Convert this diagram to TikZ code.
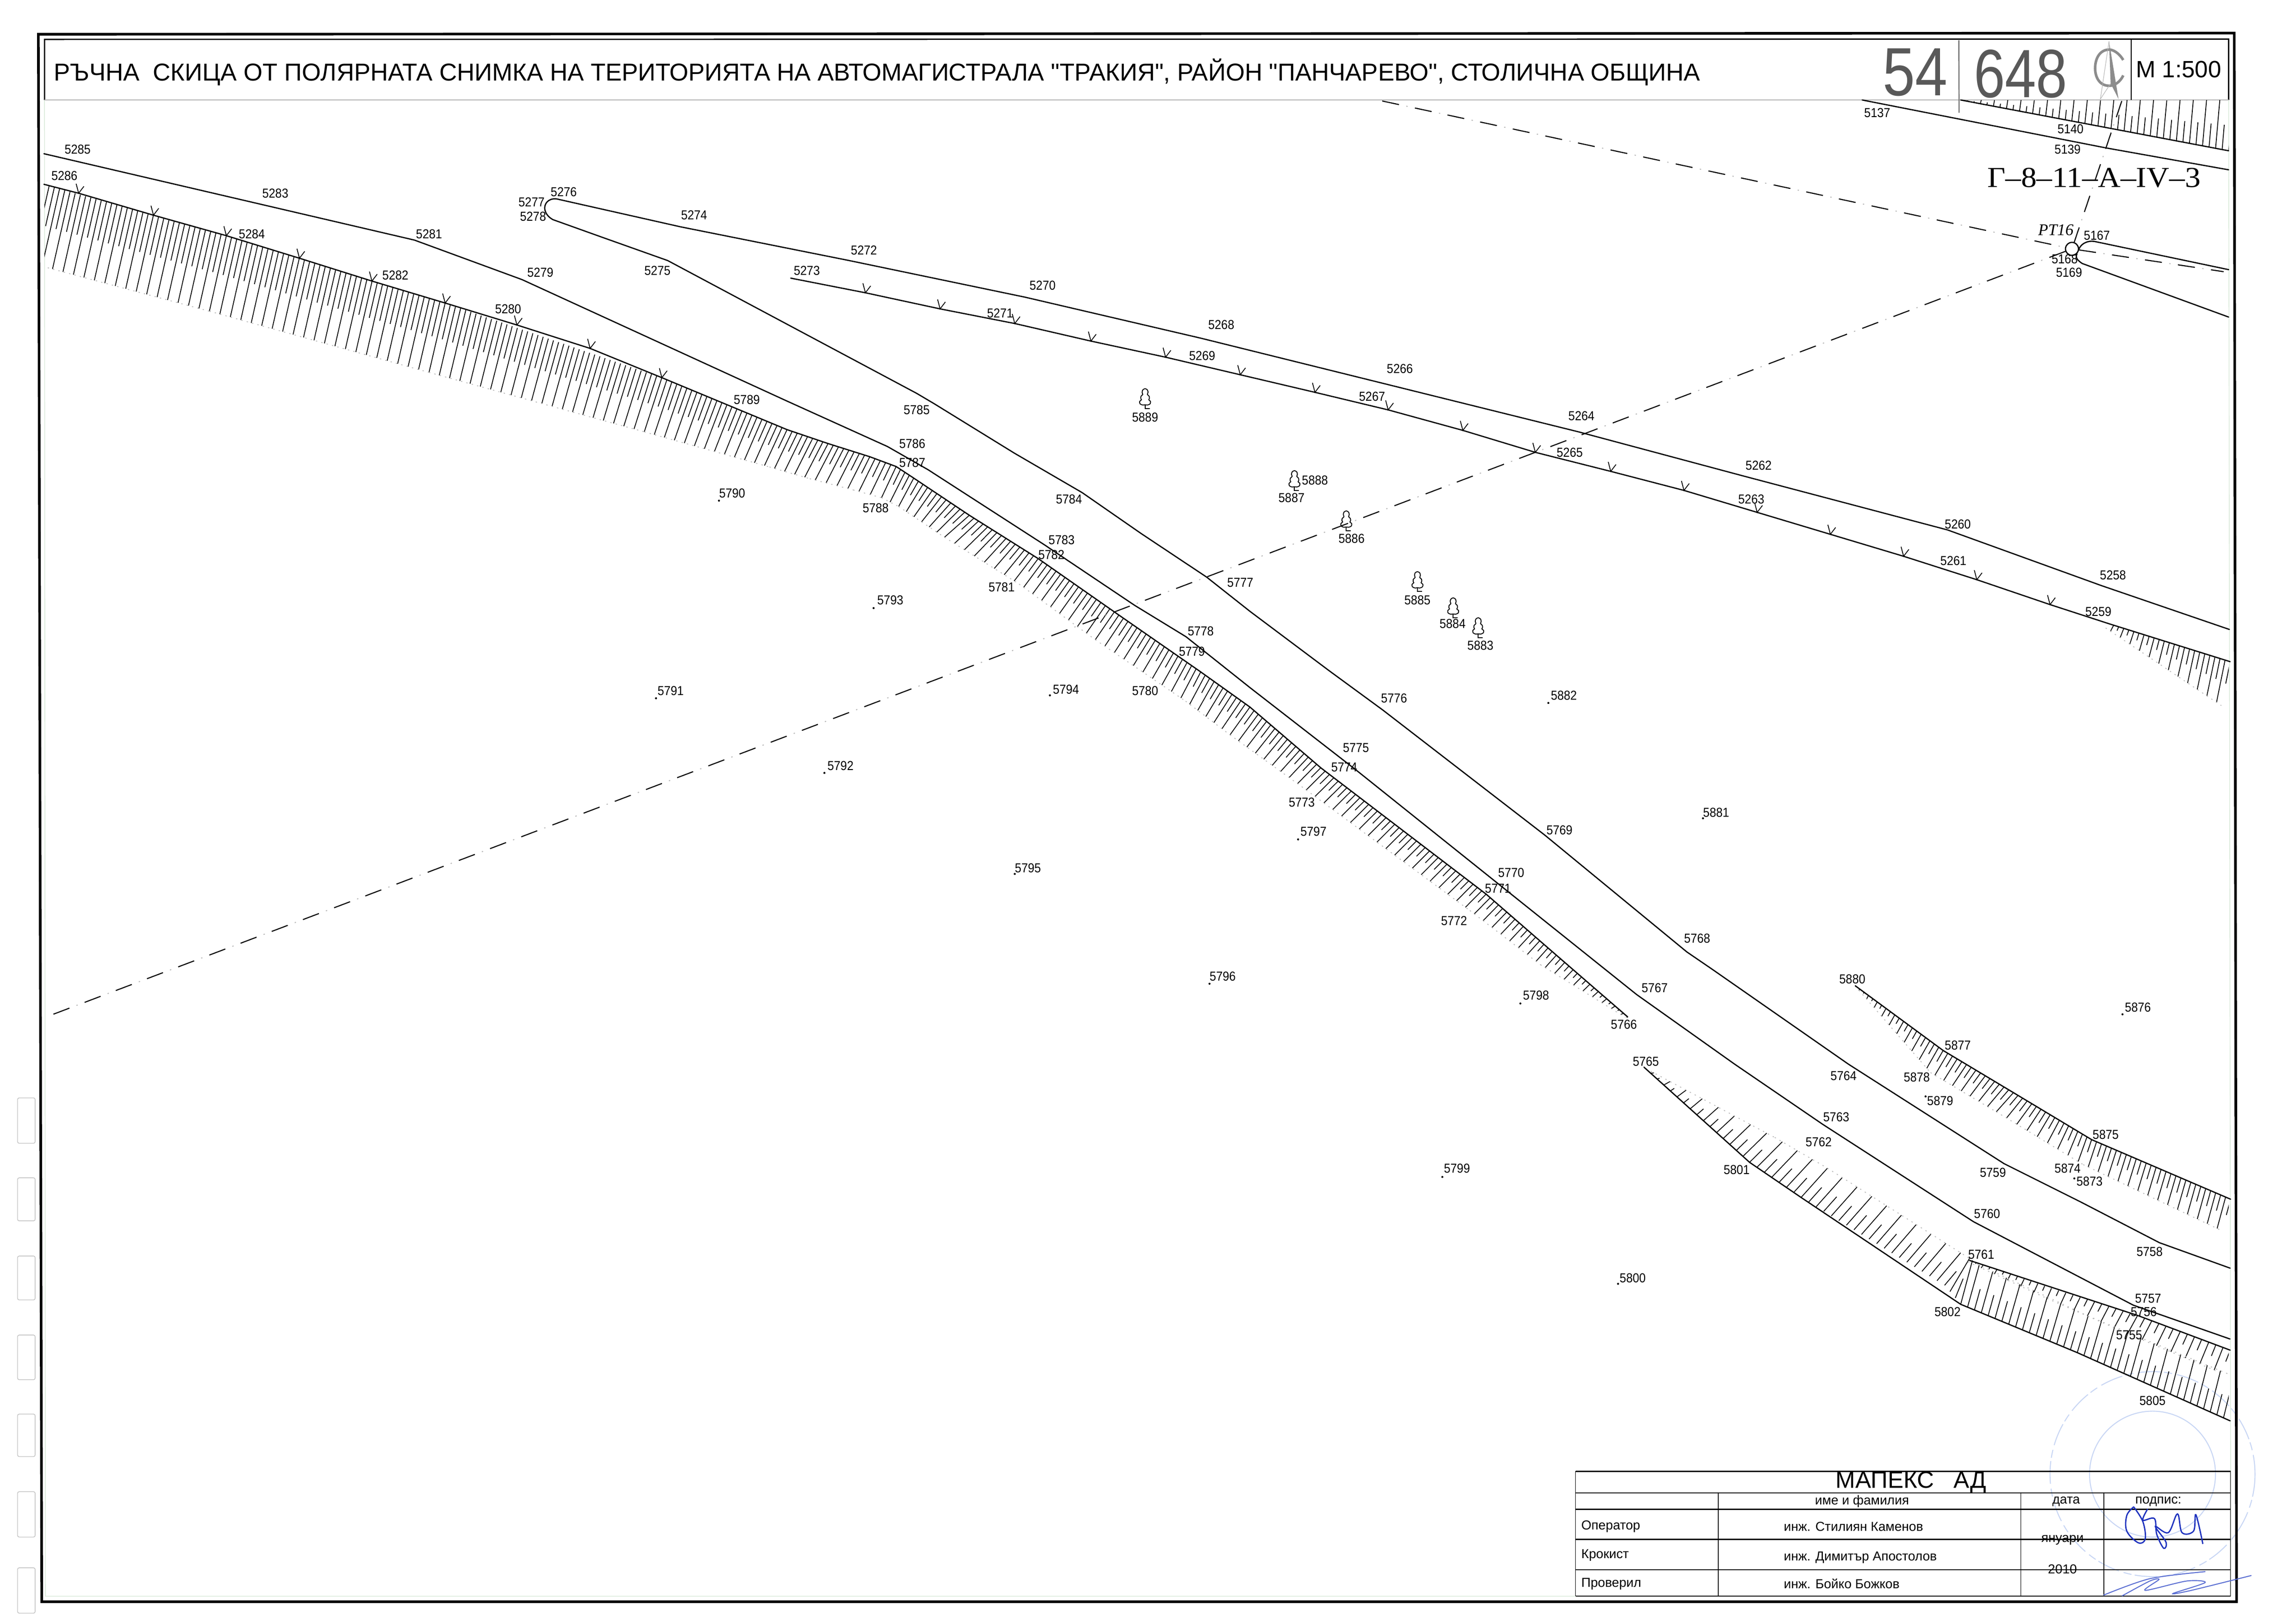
\documentclass[tikz,border=0pt]{standalone}
\usepackage{fontspec}
\setmainfont{Liberation Sans}
\newfontfamily\plainft{Liberation Sans}
\newfontfamily\serifft{Liberation Serif}
\newcount\hatchcnt
\newcommand\hs[8]{%
  \pgfmathtruncatemacro\hn{max(1,round(veclen(#3-#1,#4-#2)/\hsp))}%
  \foreach \i in {1,...,\hn}{%
    \pgfmathsetmacro\ax{#1+(#3-#1)*\i/\hn}%
    \pgfmathsetmacro\ay{#2+(#4-#2)*\i/\hn}%
    \pgfmathsetmacro\bx{#5+(#7-#5)*\i/\hn}%
    \pgfmathsetmacro\by{#6+(#8-#6)*\i/\hn}%
    \global\advance\hatchcnt by 1\relax
    \ifodd\hatchcnt
      \draw[hatchline] (\ax,\ay) -- (\bx,\by);
    \else
      \draw[hatchline] (\ax,\ay) -- ({\ax+0.5*(\bx-\ax)},{\ay+0.5*(\by-\ay)});
    \fi
  }%
  \draw[toeline] (#5,#6) -- (#7,#8);
}
\newcommand\band[2]{%
  \def\hsp{#1}%
  \foreach \a/\b/\c/\d [remember=\a as \pa (initially 0),remember=\b as \pb (initially 0),remember=\c as \pc (initially 0),remember=\d as \pd (initially 0),count=\k] in {#2}{%
    \ifnum\k>1 \hs{\pa}{\pb}{\a}{\b}{\pc}{\pd}{\c}{\d}\fi
  }%
}
\newcommand\treesym[2]{%
  \draw[treeline,shift={(#1,#2)}] plot[smooth cycle,tension=.55] coordinates {(0,0) (1.6,.9) (2,2.6) (1.6,4) (2.8,5.2) (2.9,6.8) (2.5,7.6) (3.7,8.7) (3.4,10.4) (1.5,11.2) (0,11) (-1.5,11.2) (-3.4,10.4) (-3.7,8.7) (-2.5,7.6) (-2.9,6.8) (-2.8,5.2) (-1.6,4) (-2,2.6) (-1.6,.9)};
  \draw[treeline,shift={(#1,#2)}] (0,11) -- (0,13.6) -- (3.2,13.6);
}
\tikzset{
  mainline/.style={line width=.75pt,line join=round,line cap=round},
  hatchline/.style={line width=.5pt},
  toeline/.style={line width=.5pt,gray!55,dash pattern=on .8pt off 2.6pt},
  treeline/.style={line width=.55pt},
  tickline/.style={line width=.5pt},
  lbl/.style={font=\fontsize{8}{8}\selectfont,inner sep=0pt,xscale=.9},
  tbl/.style={font=\fontsize{8}{9}\selectfont,inner sep=0pt},
  dashblack/.style={line width=.65pt,dash pattern=on 10.5pt off 10pt},
  dashdot/.style={line width=.6pt,gray!55,dash pattern=on .8pt off 19.7pt,dash phase=5.4pt},
  hand/.style={font=\fontsize{42}{42}\selectfont,text=black!65,inner sep=0pt},
  sig/.style={line width=.8pt,color={rgb,255:red,30;green,50;blue,190},line cap=round},
  sigl/.style={line width=.6pt,color={rgb,255:red,90;green,110;blue,210},line cap=round},
  stamp/.style={line width=.6pt,color={rgb,255:red,200;green,214;blue,244}},
  punch/.style={line width=.4pt,draw=black!25,rounded corners=1pt},
}
\begin{document}
\begin{tikzpicture}[x=0.031633cm,y=-0.031633cm]
\useasboundingbox (0,0) rectangle (1568,1108);
\fill[white] (0,0) rectangle (1568,1108);

% punch holes of the margin
\foreach \t/\u in {750/781,804.6/834,858/888,912/942.5,966/995,1019/1050,1071/1102}
  \draw[punch] (12,\t) rectangle (24,\u);

% stamp
\draw[stamp,dash pattern=on 14pt off 2pt on 5pt off 3pt] (1470,1007) circle (70);
\draw[stamp] (1470,1007) circle (43);

% frames
\draw[line width=1.6pt] (26.2,23.4) -- (1525.8,22.6) -- (1527.4,1094.2) -- (28.5,1094.2) -- cycle;
\draw[line width=.4pt,color={rgb,255:red,215;green,232;blue,215}] (30.4,68.3) -- (31,1090.4) -- (1523.5,1090.4) -- (1522,68.3);
\draw[line width=.8pt] (30.4,68.3) -- (30.4,26.9) -- (1522,26.7) -- (1522,68.3);
\draw[line width=.5pt,gray!60] (30.4,68.3) -- (1522,68.3);
\draw[line width=.55pt] (1455.3,27) -- (1455.3,68.3);

% title
\node[anchor=base west,inner sep=0pt,font=\plainft\fontsize{15}{16}\selectfont] (title) at (36.5,55.3) {РЪЧНА\ \ СКИЦА ОТ ПОЛЯРНАТА СНИМКА НА ТЕРИТОРИЯТА НА АВТОМАГИСТРАЛА "ТРАКИЯ", РАЙОН "ПАНЧАРЕВО", СТОЛИЧНА ОБЩИНА};
\node[anchor=base west,inner sep=0pt,font=\fontsize{14.5}{15}\selectfont] (scale) at (1458.5,53) {M 1:500};

% handwritten sheet number
\node[hand,xscale=.85] (h54) at (1308,49.5) {54};
\node[hand,xscale=.82] (h648) at (1380,50.5) {648};
\draw[line width=.7pt,black!55] (1337.7,27.5) -- (1337.9,77);
\draw[line width=1.6pt,black!45] (1450,41) .. controls (1447,36) and (1443,33.9) .. (1440.4,33.9) .. controls (1434,33.9) and (1430.8,40) .. (1430.8,46.6) .. controls (1430.8,53) and (1434,58.6) .. (1440.4,58.6) .. controls (1444,58.6) and (1448,56) .. (1450,51.5);
\fill[black!45] (1440.3,28.2) -- (1446.8,67.7) -- (1441.4,57) -- cycle;
\draw[line width=.3pt,black!30] (1440.3,28.2) -- (1434.4,67.7) -- (1441.4,57);

% hatched slopes
\begin{scope}
\clip (30.4,68.3) rectangle (1522,1094);
\band{3.7}{30/126/18/179,154.6/161/143/212.6,304/207/293/254.4,452/258/440/295,537.5/293.5/525.5/319,565.5/303/553/327,594/312/582.7/334.7,612/318.7/602/340,624/326.6/613.7/346,662/352/645/367,709/381.6/696/399,761/418/748/437,820/459/809.7/479,853.6/483/840/502,902/524.5/889/537.4,1014.9/610.8/1003.8/622,1060/650/1052/659,1111.6/694.7/1110/695}
\band{3.7}{1440/426/1438/429,1523/452/1517/482}
\band{6}{1122.7/729/1124/730,1194.8/794/1212/777,1230/818/1248/798,1328/878/1344/859,1339/891/1347/861}
\band{5}{1345/861/1344/862,1401/880/1398/887,1459.8/898.6/1453/911,1523/922.3/1517/938}
\band{5}{1339/891/1347/862,1418.6/924/1426/899,1523/970.6/1530/942}
\band{3.7}{1267/673.4/1267/673.6,1327/717.6/1318.4/732.7,1375/746.4/1363.3/759.5,1428.4/778.5/1422.7/795.6,1523.3/819.2/1517.5/840.8}
\band{4.5}{1339/68.3/1339.5/68.3,1522/103/1525/68.3}
\end{scope}

% road and slope lines
\draw[mainline] (30,105) -- (283,164) -- (356.5,191) -- (537.5,274) -- (606,305) -- (634,321) -- (713,372) -- (775,413.6) -- (810,435) -- (853.6,469.7) -- (926.2,526.1) -- (1031,610) -- (1117.7,679.4) -- (1184.7,727) -- (1244.7,768) -- (1347.8,834.6) -- (1456.9,891.6) -- (1522.9,914.7);
\draw[mainline] (30,125.9) -- (53.7,132) -- (104.8,147) -- (154.6,161) -- (204.5,176.4) -- (254,192) -- (304,207) -- (353,222) -- (403,238) -- (452,258) -- (537.5,293.5) -- (565.5,303) -- (594,312) -- (612,318.7) -- (624,326.6) -- (662,352) -- (709,381.6) -- (761,418) -- (820,459) -- (853.6,483) -- (902,524.5) -- (1014.9,610.8) -- (1060,650) -- (1111.6,694.7);
\draw[mainline] (1522.5,430) -- (1435,400) -- (1330,362) -- (1190,325) -- (1078,295) -- (945,262) -- (820,231) -- (700,203) -- (580,178) -- (465,155) -- (382,136.3) .. controls (376,134.5) and (372,138) .. (372,142) .. controls (372,145) and (374,148) .. (377.5,150) -- (411,162) -- (456,178) -- (626,268.7) -- (638,275.8) -- (692.8,309.6) -- (739,336.5) -- (779.5,364.6) -- (824,394.2) -- (853.6,417.6) -- (908,458.4) -- (944.3,485) -- (1055,570.5) -- (1152,650.3) -- (1169.7,662.4) -- (1262.4,727) -- (1368.6,794.9) -- (1420.8,821) -- (1474.7,848.9) -- (1523,866.3);
\draw[mainline] (540,190) -- (591,200) -- (642,211) -- (693,221) -- (745,233) -- (796,244) -- (847,256) -- (898,268) -- (948,280) -- (999,294) -- (1048.5,309) -- (1100,322) -- (1150,335) -- (1200,350) -- (1250,365) -- (1300,380) -- (1350,396) -- (1400,413) -- (1440,426) -- (1523,452);
\draw[mainline] (1122.7,729) -- (1194.8,794) -- (1230,818) -- (1339,891) -- (1418.6,924) -- (1523,970.6);
\draw[mainline] (1345,861) -- (1459.8,898.6) -- (1523,922.3);
\draw[mainline] (1267,673.4) -- (1327,717.6) -- (1375,746.4) -- (1428.4,778.5) -- (1523.3,819.2);
\draw[mainline] (1271.7,68.3) -- (1438,101) -- (1522,116);
\draw[mainline] (1339,68.3) -- (1522,103);

% tick marks
\foreach \x/\y in {53.7/132,104.8/147,154.6/161,204.5/176.4,254/192,304/207,353/222,403/238,452/258,591/200,642/211,693/221,745/233,796/244,847/256,898/268,948/280,999/294,1048.5/309,1100/322,1150/335,1200/350,1250/365,1300/380,1350/396,1400/413}
  \draw[tickline] (\x-1.7,\y-6.5) -- (\x,\y) -- (\x+3.6,\y-4.7);

% station and survey lines
\node[circle,draw,line width=.75pt,inner sep=0pt,minimum size=8pt] (pt) at (1415,170) {};
\coordinate (tl) at (944,69);
\coordinate (tr) at (1449,69);
\coordinate (lf) at (36,693);
\coordinate (rt) at (1518.6,185.6);
\draw[mainline] (pt.east) .. controls (1421,167) and (1425,164) .. (1430.7,165) -- (1522,184.2);
\draw[mainline] (pt.south east) .. controls (1417,176) and (1419,178) .. (1422,180) -- (1522,216.6);
\foreach \p/\q in {tl/pt,pt/rt,tr/pt,pt/lf}{
  \draw[dashblack] (\p) -- (\q);
  \draw[dashdot] (\p) -- (\q);
}
\node[font=\itshape\serifft\fontsize{10}{10}\selectfont,inner sep=0pt] (pt16) at (1404,157) {PT16};
\node[font=\serifft\fontsize{17.8}{18}\selectfont,inner sep=0pt,xscale=1.08] (sheet) at (1430,121.5) {Г–8–11–А–IV–3};

% trees
\treesym{782}{265.5}
\treesym{884}{321.5}
\treesym{919.4}{349}
\treesym{968}{390.5}
\treesym{992.4}{408.4}
\treesym{1009.5}{422}

% survey points
\foreach \x/\y in {491/342,596.6/415.4,448/477,717/475,563/528,693/597,826/672,886.5/573.4,1057.4/480.2,1163/559,1038.3/685.5,985/804,1105/877,1449.5/692.9,1315/749,1416.6/805}
  \fill (\x,\y) circle (.7);

% point numbers
\foreach \n/\x/\y in {5285/53/102,5286/44/120,5283/188/132,5284/172/160,5281/293/160,5282/270/188,5279/369/186,5280/347/211,5276/385/131,5277/363/138,5278/364/148,5275/449/185,5274/474/147,5273/551/185,5272/590/171,5271/683/214,5270/712/195,5269/821/243,5268/834/222,5267/937/271,5266/956/252,5265/1072/309,5264/1080/284,5263/1196/341,5262/1201/318,5261/1334/383,5260/1337/358,5259/1433/418,5258/1443/393,5789/510/273,5790/500/337,5785/626/280,5786/623/303,5787/623/316,5788/598/347,5784/730/341,5783/725/369,5782/718/379,5781/684/401,5793/608/410,5777/847/398,5778/820/431,5779/814/445,5780/782/472,5794/728/471,5791/458/472,5792/574/523,5776/952/477,5775/926/511,5774/918/524,5773/889/548,5797/897/568,5795/702/593,5796/835/667,5882/1068/475,5881/1172/555,5769/1065/567,5770/1032/596,5771/1023/607,5772/993/629,5768/1159/641,5767/1130/675,5766/1109/700,5765/1124/725,5798/1049/680,5880/1265/669,5877/1337/714,5878/1309/736,5879/1325/752,5876/1460/688,5764/1259/735,5763/1254/763,5762/1242/780,5875/1438/775,5874/1412/798,5873/1427/807,5759/1361/801,5760/1357/829,5761/1353/857,5758/1468/855,5757/1467/887,5756/1464/896,5755/1454/912,5801/1186/799,5802/1330/896,5805/1470/957,5799/995/798,5800/1115/873,5889/782/285,5888/898/328,5887/882/340,5886/923/368,5885/968/410,5884/992/426,5883/1011/441,5137/1282/77,5140/1414/88,5139/1412/102,5167/1432/161,5168/1410/177,5169/1413/186}
  \node[lbl] (n\n) at (\x,\y) {\n};

% title block
\foreach \y in {1005,1019.8,1031,1051.7,1072.3,1090.3}
  \draw[line width=.8pt] (1076,\y) -- (1523.3,\y);
\foreach \x in {1173.5,1380,1436.8}
  \draw[line width=.4pt] (\x,1019.8) -- (\x,1090.3);
\draw[line width=.4pt] (1076,1005) -- (1076,1090.3);
\draw[line width=.4pt] (1523.3,1005) -- (1523.3,1090.3);
\node[inner sep=0pt,font=\fontsize{14.5}{15}\selectfont] (firm) at (1305,1012.5) {МАПЕКС\ \ \ АД};
\node[tbl] (thname) at (1271.6,1025.6) {име и фамилия};
\node[tbl] (thdate) at (1411,1025.6) {дата};
\node[tbl] (thsign) at (1474,1025.6) {подпис:};
\node[tbl,anchor=west] (r1) at (1079.7,1042.7) {Оператор};
\node[tbl,anchor=west] (r2) at (1079.7,1062.4) {Крокист};
\node[tbl,anchor=west] (r3) at (1079.7,1081.9) {Проверил};
\node[tbl,anchor=west] (m1) at (1218,1042.7) {инж. Стилиян Каменов};
\node[tbl,anchor=west] (m2) at (1218,1064) {инж. Димитър Апостолов};
\node[tbl,anchor=west] (m3) at (1218,1081.9) {инж. Бойко Божков};
\node[tbl] (d1) at (1408.5,1051.9) {януари};
\node[tbl] (d2) at (1408.5,1072) {2010};

% signatures
\begin{scope}[shift={(1075,1005.4)},x=0.009952cm,y=-0.003369cm]
\draw[sig] plot[smooth,tension=.6] coordinates {(1215,225) (1200,280) (1200,380) (1225,455) (1240,430) (1235,320) (1215,225)};
\draw[sig] plot[smooth,tension=.6] coordinates {(1245,240) (1235,310) (1260,300) (1265,400) (1280,490) (1285,450) (1262,350) (1290,390) (1310,270) (1320,390) (1345,380) (1350,275) (1365,460)};
\draw[sigl] plot[smooth,tension=.5] coordinates {(1150,790) (1250,685) (1370,640)};
\draw[sigl] plot[smooth,tension=.5] coordinates {(1190,795) (1250,700) (1270,690) (1240,760) (1330,700) (1370,710) (1300,780) (1340,760) (1470,665)};
\end{scope}
\end{tikzpicture}
\end{document}
